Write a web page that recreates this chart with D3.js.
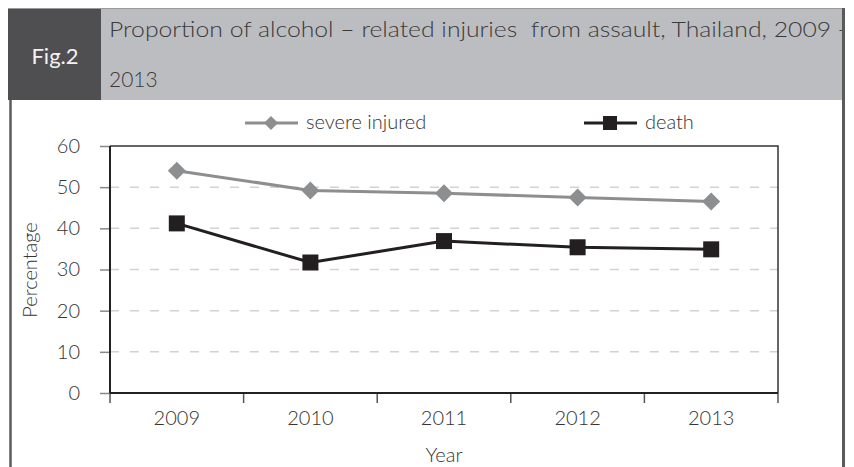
<!DOCTYPE html>
<html>
<head>
<meta charset="utf-8">
<script src="https://cdn.jsdelivr.net/npm/d3@7"></script>
<style>
  body { margin: 0; background: #fff; }
  text { font-family: Lato, "Open Sans", sans-serif; font-weight: 300; white-space: pre; }
</style>
</head>
<body>
<div id="chart"></div>
<script>
let years = ["2009", "2010", "2011", "2012", "2013"];
let severeInjured = [54.0, 49.2, 48.5, 47.5, 46.5];
let death = [41.2, 31.7, 36.9, 35.4, 34.9];
let yTicks = [0, 10, 20, 30, 40, 50, 60];
let titleLines = ["Proportion of alcohol \u2013 related injuries  from assault, Thailand, 2009 -", "2013"];
let figLabel = "Fig.2";

let width = 854;
let height = 467;
let font = 'Lato, "Open Sans", sans-serif';

let svg = d3.select('#chart').append('svg')
            .attr('width', width)
            .attr('height', height);

svg.append('clipPath').attr('id', 'hdrclip')
    .append('rect').attr('x', 8).attr('y', 8).attr('width', 835).attr('height', 92);

// header bar
svg.append('rect')
    .attr('x', 8).attr('y', 8).attr('width', 836).attr('height', 92)
    .attr('fill', '#bcbdc0');
svg.append('rect')
    .attr('x', 8).attr('y', 8).attr('width', 93).attr('height', 92)
    .attr('fill', '#4f4f51');
svg.append('line')
    .attr('x1', 8).attr('x2', 844).attr('y1', 8.5).attr('y2', 8.5)
    .attr('stroke', '#9a9a9c').attr('stroke-width', 1);

svg.append('text')
    .attr('x', 55).attr('y', 64)
    .attr('text-anchor', 'middle')
    .attr('font-size', 22)
    .style('font-weight', 400)
    .attr('fill', '#f2f2f2')
    .text(figLabel);

svg.append('g').attr('clip-path', 'url(#hdrclip)')
    .selectAll('.title')
    .data(titleLines)
    .join('text')
    .attr('class', 'title')
    .attr('x', 109)
    .attr('y', (d, i) => 37 + i * 50)
    .attr('font-size', 21)
    .attr('fill', '#3a3a3a')
    .attr('textLength', (d, i) => i == 0 ? 738 : null)
    .attr('lengthAdjust', 'spacingAndGlyphs')
    .text(d => d);

// side frame lines
svg.append('line')
    .attr('x1', 10.5).attr('x2', 10.5).attr('y1', 100).attr('y2', height)
    .attr('stroke', '#5a5a5a').attr('stroke-width', 2.5);
svg.append('line')
    .attr('x1', 843.5).attr('x2', 843.5).attr('y1', 8).attr('y2', height)
    .attr('stroke', '#5a5a5a').attr('stroke-width', 3);

// plot
let x = d3.scaleBand().domain(years).range([110, 778]);
let y = d3.scaleLinear().domain([0, 60]).range([393, 146]);

// grid lines
svg.selectAll('.grid')
    .data(yTicks.filter(d => d > 0 && d < 60))
    .join('line')
    .attr('class', 'grid')
    .attr('x1', 110).attr('x2', 778)
    .attr('y1', d => y(d)).attr('y2', d => y(d))
    .attr('stroke', '#d2d2d2')
    .attr('stroke-width', 1.5)
    .attr('stroke-dasharray', '9,11');

// top and right border
svg.append('path')
    .attr('d', `M110,${y(60)}H778V${y(0)}`)
    .attr('fill', 'none')
    .attr('stroke', '#333')
    .attr('stroke-width', 1.5);

// y axis
let yAxis = svg.append('g')
    .attr('transform', 'translate(110,0)')
    .call(d3.axisLeft(y).tickValues(yTicks).tickSize(10).tickPadding(20));
yAxis.select('.domain').remove();
yAxis.selectAll('line').attr('stroke', '#888').attr('stroke-width', 1.5);
yAxis.selectAll('text').attr('font-size', 20).attr('fill', '#333')
     .attr('font-family', font);

// x axis
let xAxis = svg.append('g')
    .attr('transform', `translate(0,${y(0)})`)
    .call(d3.axisBottom(x).tickSize(0).tickPadding(18));
xAxis.select('.domain').remove();
xAxis.selectAll('text').attr('font-size', 20).attr('fill', '#333')
     .attr('font-family', font);

let bounds = years.map(d => x(d)).concat([x(years[years.length - 1]) + x.step()]);
svg.selectAll('.xtick')
    .data(bounds)
    .join('line')
    .attr('class', 'xtick')
    .attr('x1', d => d).attr('x2', d => d)
    .attr('y1', y(0)).attr('y2', y(0) + 10)
    .attr('stroke', '#555').attr('stroke-width', 1.5);

// axis lines
svg.append('line')
    .attr('x1', 110).attr('x2', 110).attr('y1', y(60)).attr('y2', y(0))
    .attr('stroke', '#222').attr('stroke-width', 2);
svg.append('line')
    .attr('x1', 110).attr('x2', 778).attr('y1', y(0)).attr('y2', y(0))
    .attr('stroke', '#222').attr('stroke-width', 2);

// axis titles
svg.append('text')
    .attr('transform', 'translate(37,270) rotate(-90)')
    .attr('text-anchor', 'middle')
    .attr('font-size', 20)
    .attr('fill', '#333')
    .text('Percentage');
svg.append('text')
    .attr('x', 444).attr('y', 462)
    .attr('text-anchor', 'middle')
    .attr('font-size', 20)
    .attr('fill', '#333')
    .text('Year');

// series
let cx = d => x(d) + x.bandwidth() / 2;
let line = d3.line().x(d => cx(d.year)).y(d => y(d.value));

let sevData = years.map((d, i) => ({year: d, value: severeInjured[i]}));
let deathData = years.map((d, i) => ({year: d, value: death[i]}));

svg.append('path')
    .datum(sevData)
    .attr('d', line)
    .attr('fill', 'none')
    .attr('stroke', '#8d8e90')
    .attr('stroke-width', 3);

svg.selectAll('.diamond')
    .data(sevData)
    .join('path')
    .attr('class', 'diamond')
    .attr('d', 'M0,-9L9,0L0,9L-9,0Z')
    .attr('transform', d => `translate(${cx(d.year)},${y(d.value)})`)
    .attr('fill', '#8d8e90');

svg.append('path')
    .datum(deathData)
    .attr('d', line)
    .attr('fill', 'none')
    .attr('stroke', '#231f20')
    .attr('stroke-width', 3);

svg.selectAll('.square')
    .data(deathData)
    .join('rect')
    .attr('class', 'square')
    .attr('x', d => cx(d.year) - 8)
    .attr('y', d => y(d.value) - 8)
    .attr('width', 16).attr('height', 16)
    .attr('fill', '#231f20');

// legend
let legend = [
    {name: 'severe injured', color: '#8d8e90', shape: 'diamond', x: 245},
    {name: 'death', color: '#231f20', shape: 'square', x: 584}
];
let lg = svg.selectAll('.legend')
    .data(legend)
    .join('g')
    .attr('class', 'legend')
    .attr('transform', d => `translate(${d.x},123)`);
lg.append('line')
    .attr('x1', 0).attr('x2', 53)
    .attr('stroke', d => d.color).attr('stroke-width', 3);
lg.append('path')
    .attr('d', d => d.shape == 'diamond' ? 'M26,-7L33,0L26,7L19,0Z' : 'M19,-7H33V7H19Z')
    .attr('fill', d => d.color);
lg.append('text')
    .attr('x', 61)
    .attr('y', 6)
    .attr('font-size', 20)
    .attr('fill', '#333')
    .text(d => d.name);
</script>
</body>
</html>
